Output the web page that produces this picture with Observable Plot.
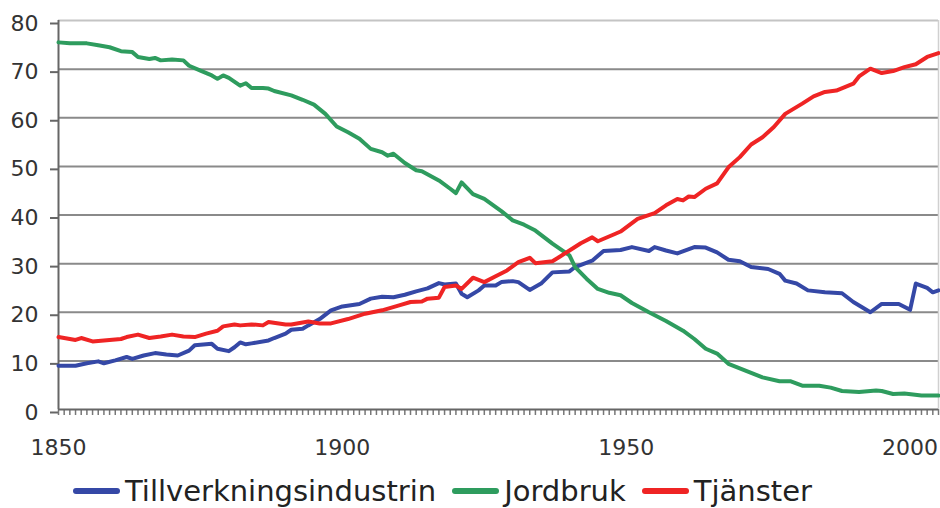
<!DOCTYPE html>
<html>
<head>
<meta charset="utf-8">
<script src="https://cdn.jsdelivr.net/npm/d3@7"></script>
<script src="https://cdn.jsdelivr.net/npm/@observablehq/plot@0.6"></script>
<style>
  html, body { margin: 0; padding: 0; background: #fff; width: 940px; height: 508px; overflow: hidden; }
  #legend { display: flex; align-items: center; height: 48px; box-sizing: border-box; padding-top: 13px; padding-left: 73px;
    font-family: "DejaVu Sans", Verdana, sans-serif; font-size: 29px; line-height: 34px; color: #222; white-space: nowrap; }
  .sw { display: inline-block; width: 47px; height: 6px; border-radius: 3px; margin-right: 5px; }
  .lab { margin-right: 16px; }
</style>
</head>
<body>
<div id="chart"></div>
<div id="legend"></div>
<script>
const seriesNames = ["Tillverkningsindustrin", "Jordbruk", "Tjänster"];
const seriesColors = ["#3548a6", "#2e9c5e", "#ef2424"];

const industryYears = [1850,1853,1855,1857,1858,1860,1862,1863,1865,1867,1869,1871,1873,1874,1876,1877,1878,1880,1881,1882,1883,1884,1887,1888,1890,1891,1893,1894,1896,1898,1900,1903,1905,1907,1909,1911,1913,1915,1917,1918,1920,1921,1922,1924,1925,1927,1928,1930,1931,1933,1935,1937,1940,1941,1944,1946,1949,1951,1954,1955,1957,1959,1962,1964,1966,1968,1970,1972,1975,1977,1978,1980,1982,1985,1988,1990,1993,1995,1998,2000,2001,2003,2004,2005];
const industryValues = [9.0,9.0,9.5,9.9,9.5,10.1,10.8,10.4,11.1,11.6,11.3,11.1,12.1,13.2,13.4,13.5,12.5,12.0,12.8,13.8,13.4,13.6,14.2,14.7,15.6,16.4,16.6,17.3,18.6,20.4,21.2,21.7,22.8,23.2,23.1,23.6,24.3,24.9,26.0,25.7,25.9,23.8,23.1,24.5,25.5,25.5,26.2,26.4,26.2,24.6,25.9,28.2,28.4,29.3,30.6,32.6,32.8,33.4,32.6,33.4,32.7,32.1,33.4,33.3,32.3,30.8,30.5,29.3,28.9,27.9,26.5,25.9,24.5,24.1,23.9,22.1,20.0,21.7,21.7,20.5,25.9,25.0,24.1,24.5];

const agriYears = [1850,1852,1855,1857,1859,1861,1863,1864,1866,1867,1868,1870,1872,1873,1875,1877,1878,1879,1880,1882,1883,1884,1886,1887,1888,1891,1893,1895,1897,1899,1901,1903,1905,1907,1908,1909,1911,1913,1914,1917,1919,1920,1921,1923,1925,1928,1930,1932,1934,1937,1940,1941,1943,1945,1947,1949,1951,1954,1957,1960,1962,1964,1966,1968,1971,1974,1977,1979,1981,1984,1986,1988,1991,1994,1995,1997,1999,2002,2005];
const agriValues = [75.5,75.3,75.3,74.9,74.5,73.7,73.5,72.5,72.1,72.3,71.8,72.0,71.8,70.7,69.7,68.7,68.0,68.7,68.2,66.6,67.1,66.1,66.1,66.0,65.5,64.6,63.7,62.7,60.8,58.2,57.0,55.7,53.6,52.9,52.2,52.6,50.7,49.2,49.0,47.1,45.4,44.5,46.7,44.3,43.3,40.8,38.9,38.0,36.8,34.1,31.7,29.3,26.9,24.8,24.0,23.5,21.9,20.0,18.2,16.2,14.5,12.5,11.5,9.4,8.0,6.6,5.8,5.8,4.9,4.9,4.5,3.8,3.6,3.9,3.8,3.2,3.3,2.9,2.9];

const serviceYears = [1850,1853,1854,1856,1859,1861,1862,1864,1866,1868,1870,1872,1874,1876,1878,1879,1881,1882,1884,1886,1887,1890,1891,1894,1896,1898,1901,1904,1907,1910,1912,1914,1915,1917,1918,1920,1921,1923,1925,1927,1929,1931,1933,1934,1937,1938,1940,1942,1944,1945,1948,1949,1952,1955,1957,1959,1960,1961,1962,1964,1966,1968,1970,1972,1974,1976,1978,1981,1983,1985,1987,1990,1991,1993,1995,1997,1999,2001,2003,2005];
const serviceValues = [14.9,14.3,14.7,14.0,14.3,14.5,14.9,15.4,14.7,15.0,15.4,15.0,14.9,15.6,16.2,17.1,17.5,17.3,17.5,17.3,18.0,17.5,17.5,18.1,17.7,17.7,18.6,19.7,20.4,21.4,22.1,22.2,22.8,23.0,25.2,25.5,24.8,27.1,26.2,27.4,28.6,30.3,31.2,30.1,30.5,31.2,32.7,34.2,35.4,34.6,36.1,36.6,39.2,40.4,42.0,43.3,43.0,43.8,43.7,45.4,46.5,49.8,51.9,54.5,56.0,58.1,60.8,62.9,64.4,65.3,65.6,67.0,68.5,70.1,69.2,69.6,70.4,71.0,72.5,73.3];

const xTickYears = [1850, 1900, 1950, 2000];
const yTicks = [0, 10, 20, 30, 40, 50, 60, 70, 80];

const rows = [];
[[industryYears, industryValues], [agriYears, agriValues], [serviceYears, serviceValues]].forEach(([ys, vs], i) => {
  ys.forEach((y, j) => rows.push({year: y, value: vs[j], series: seriesNames[i]}));
});

const chart = Plot.plot({
  width: 940,
  height: 460,
  marginTop: 20,
  marginLeft: 58,
  marginRight: 2,
  marginBottom: 51,
  style: {fontFamily: "DejaVu Sans, Verdana, sans-serif", fontSize: "22px", color: "#333", background: "#fff"},
  x: {domain: [1850, 2005]},
  y: {domain: [0, 80]},
  color: {domain: seriesNames, range: seriesColors},
  marks: [
    Plot.gridY(yTicks.filter(d => d > 0 && d < 80), {stroke: "#8a8a8a", strokeWidth: 2, strokeOpacity: 1}),
    Plot.gridY([80], {stroke: "#c4c4c4", strokeWidth: 2, strokeOpacity: 1}),
    Plot.ruleX([2005], {stroke: "#d0d0d0", strokeWidth: 1.5}),
    Plot.axisY({ticks: yTicks, tickSize: 8, tickPadding: 12, dy: 3, fontSize: 22, label: null, stroke: "#666", strokeWidth: 2, color: "#333"}),
    Plot.axisX({ticks: d3.range(1850, 2006), tickSize: 6, tickFormat: () => "", label: null, stroke: "#777", strokeWidth: 1.5}),
    Plot.axisX({ticks: xTickYears, tickSize: 0, tickPadding: 30, tickFormat: d3.format("d"), fontSize: 22, label: null, color: "#333"}),
    Plot.ruleX([1850], {stroke: "#666", strokeWidth: 2}),
    Plot.ruleY([0], {stroke: "#666", strokeWidth: 2}),
    Plot.lineY(rows, {x: "year", y: "value", stroke: "series", z: "series", strokeWidth: 4, strokeLinejoin: "round", strokeLinecap: "round"})
  ]
});
document.getElementById("chart").appendChild(chart);

const legend = document.getElementById("legend");
seriesNames.forEach((name, i) => {
  const sw = document.createElement("span");
  sw.className = "sw";
  sw.style.background = seriesColors[i];
  const lab = document.createElement("span");
  lab.className = "lab";
  lab.textContent = name;
  legend.appendChild(sw);
  legend.appendChild(lab);
});
</script>
</body>
</html>
